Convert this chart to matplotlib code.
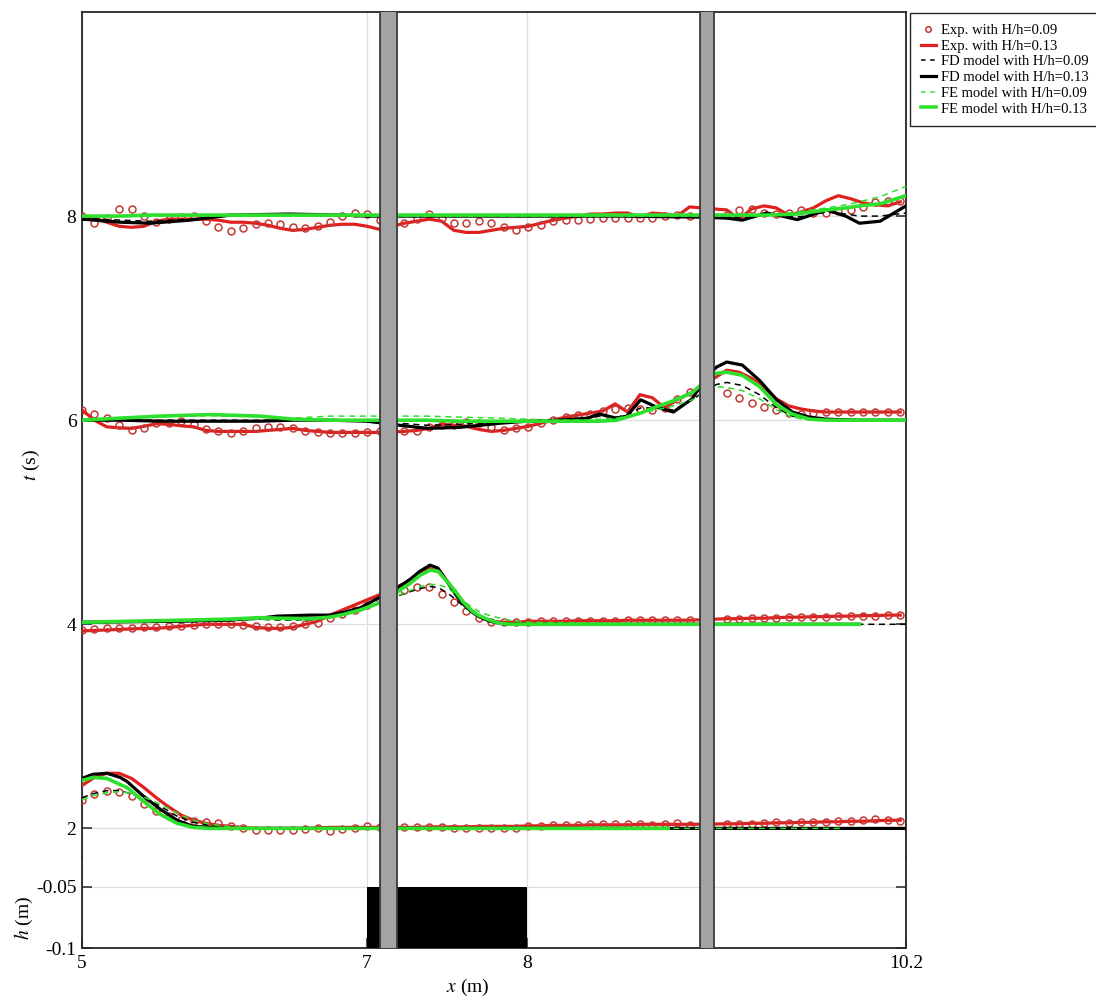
import matplotlib
matplotlib.use("Agg")
import matplotlib.pyplot as plt
import numpy as np
from matplotlib.lines import Line2D

# wave gauge stations along the flume (m)
gauge_x = [5.000, 5.087, 5.174, 5.261, 5.348, 5.435, 5.522, 5.609, 5.696, 5.783,
           5.870, 5.957, 6.044, 6.131, 6.218, 6.305, 6.392, 6.479, 6.566, 6.653,
           6.740, 6.827, 6.914, 7.001, 7.079,
           7.234, 7.311, 7.389, 7.466, 7.544, 7.621, 7.699, 7.776, 7.854, 7.931,
           8.008, 8.080, 8.152, 8.224, 8.296, 8.368, 8.440, 8.512, 8.584, 8.656,
           8.728, 8.800, 8.872, 8.944,
           9.160, 9.232, 9.304, 9.376, 9.447, 9.519, 9.591, 9.663, 9.735, 9.807,
           9.879, 9.951, 10.023, 10.095, 10.167]

times = [2, 4, 6, 8]

# measured surface elevation (offset from the time level, in axis units)
exp09_t2 = [0.28, 0.34, 0.37, 0.36, 0.32, 0.24, 0.17, 0.12, 0.08, 0.07, 0.065, 0.055, 0.02,
            0.0, -0.02, -0.02, -0.02, -0.02, -0.01, 0.0, -0.025, -0.01, 0.0, 0.02, 0.01,
            0.01, 0.01, 0.015, 0.01, 0.005, 0.0, 0.0, 0.005, 0.005, 0.0, 0.025, 0.025,
            0.03, 0.03, 0.03, 0.04, 0.04, 0.04, 0.04, 0.04, 0.035, 0.04, 0.05, 0.035,
            0.04, 0.04, 0.04, 0.05, 0.06, 0.05, 0.06, 0.06, 0.065, 0.07, 0.075, 0.08,
            0.09, 0.08, 0.075]
exp13_t2 = [0.42, 0.5, 0.54, 0.54, 0.49, 0.4, 0.3, 0.21, 0.13, 0.08, 0.05, 0.03, 0.02,
            0.01, 0.0, 0.0, 0.0, 0.0, 0.0, 0.005, 0.01, 0.01, 0.01, 0.01, 0.01,
            0.01, 0.01, 0.015, 0.015, 0.015, 0.015, 0.02, 0.02, 0.02, 0.02, 0.025, 0.025,
            0.03, 0.03, 0.03, 0.035, 0.035, 0.035, 0.035, 0.04, 0.04, 0.04, 0.04, 0.04,
            0.045, 0.045, 0.05, 0.05, 0.055, 0.055, 0.06, 0.06, 0.065, 0.065, 0.07, 0.07,
            0.075, 0.08, 0.08]

exp09_t4 = [-0.06, -0.05, -0.04, -0.035, -0.04, -0.025, -0.025, -0.015, -0.015, -0.005,
            0.0, 0.0, 0.0, -0.005, -0.015, -0.025, -0.025, -0.015, 0.0, 0.015, 0.06, 0.1,
            0.14, 0.19, 0.25,
            0.34, 0.365, 0.365, 0.3, 0.22, 0.13, 0.065, 0.025, 0.02, 0.02, 0.025, 0.03, 0.03,
            0.03, 0.035, 0.035, 0.035, 0.035, 0.04, 0.04, 0.04, 0.04, 0.04, 0.04,
            0.055, 0.055, 0.06, 0.06, 0.065, 0.07, 0.07, 0.075, 0.075, 0.08, 0.08, 0.085,
            0.085, 0.09, 0.09]
exp13_t4 = [-0.065, -0.06, -0.055, -0.05, -0.045, -0.04, -0.04, -0.03, -0.02, -0.01,
            0.0, 0.0, 0.0, 0.0, -0.03, -0.04, -0.04, -0.03, 0.0, 0.03, 0.09, 0.14, 0.19,
            0.24, 0.29,
            0.4, 0.48, 0.55, 0.5, 0.33, 0.18, 0.08, 0.03, 0.02, 0.02, 0.03, 0.03, 0.03,
            0.03, 0.035, 0.035, 0.035, 0.035, 0.04, 0.04, 0.04, 0.04, 0.04, 0.04,
            0.055, 0.055, 0.06, 0.06, 0.065, 0.07, 0.07, 0.075, 0.075, 0.08, 0.08, 0.085,
            0.085, 0.09, 0.09]

exp09_t6 = [0.1, 0.065, 0.02, -0.05, -0.1, -0.075, -0.03, -0.03, -0.01, -0.04, -0.09,
            -0.11, -0.13, -0.11, -0.075, -0.065, -0.065, -0.08, -0.11, -0.12, -0.13, -0.13,
            -0.13, -0.12, -0.11,
            -0.11, -0.11, -0.065, -0.05, -0.05, -0.02, -0.03, -0.065, -0.1, -0.075, -0.065,
            -0.03, 0.0, 0.03, 0.05, 0.065, 0.09, 0.11, 0.12, 0.11, 0.1, 0.12, 0.21, 0.28,
            0.27, 0.22, 0.17, 0.13, 0.1, 0.075, 0.065, 0.075, 0.08, 0.08, 0.08, 0.08, 0.08,
            0.08, 0.08]
exp13_t6 = [0.1, 0.0, -0.065, -0.075, -0.08, -0.06, -0.035, -0.04, -0.055, -0.065, -0.1,
            -0.11, -0.11, -0.11, -0.11, -0.1, -0.09, -0.08, -0.1, -0.11, -0.12, -0.12, -0.12,
            -0.12, -0.12,
            -0.11, -0.1, -0.08, -0.04, -0.05, -0.06, -0.09, -0.11, -0.1, -0.08, -0.06, -0.03,
            0.0, 0.03, 0.05, 0.07, 0.09, 0.16, 0.08, 0.25, 0.22, 0.12, 0.2, 0.26,
            0.49, 0.47, 0.41, 0.32, 0.21, 0.14, 0.11, 0.09, 0.08, 0.08, 0.08, 0.08, 0.08,
            0.08, 0.08]

exp09_t8 = [0.0, -0.065, -0.02, 0.065, 0.065, 0.0, -0.055, -0.03, -0.01, 0.0, -0.05, -0.11,
            -0.15, -0.12, -0.08, -0.065, -0.075, -0.11, -0.12, -0.1, -0.055, 0.0, 0.03, 0.025,
            -0.035,
            -0.065, -0.03, 0.02, -0.02, -0.065, -0.065, -0.05, -0.065, -0.11, -0.14, -0.11,
            -0.085, -0.05, -0.04, -0.04, -0.03, -0.02, -0.02, -0.02, -0.02, -0.02, 0.0, 0.015,
            0.0,
            0.015, 0.055, 0.065, 0.03, 0.02, 0.03, 0.055, 0.03, 0.03, 0.05, 0.055, 0.085, 0.14,
            0.15, 0.15]
exp13_t8 = [0.0, -0.02, -0.06, -0.1, -0.11, -0.1, -0.05, -0.03, -0.03, -0.03, -0.03, -0.04,
            -0.06, -0.06, -0.07, -0.09, -0.12, -0.14, -0.13, -0.11, -0.09, -0.08, -0.08, -0.1,
            -0.13,
            -0.07, -0.05, -0.03, -0.05, -0.14, -0.16, -0.16, -0.14, -0.12, -0.11, -0.1, -0.07,
            -0.04, -0.02, 0.0, 0.02, 0.02, 0.03, 0.03, -0.01, 0.03, 0.02, 0.0, 0.09,
            0.06, -0.03, 0.07, 0.1, 0.08, 0.01, 0.04, 0.08, 0.15, 0.2, 0.17, 0.13, 0.11, 0.1,
            0.14]

# numerical results, each time level on its own output grid (m)
model_x_t2 = [5.0, 5.077, 5.175, 5.267, 5.316, 5.428, 5.547, 5.667, 5.779, 5.898, 6.018,
              6.249, 8.0, 8.82, 9.83, 10.2]
fd09_t2 = [0.3, 0.34, 0.37, 0.37, 0.35, 0.3, 0.22, 0.12, 0.06, 0.03, 0.01, 0.0, 0.0, 0.0,
           0.0, 0.0]
fd13_t2 = [0.49, 0.53, 0.54, 0.5, 0.46, 0.32, 0.19, 0.08, 0.02, 0.01, 0.0, 0.0, 0.0, 0.0,
           0.0, 0.0]
fe09_t2 = [0.28, 0.32, 0.35, 0.36, 0.35, 0.31, 0.24, 0.15, 0.08, 0.04, 0.02, 0.0, 0.0, 0.0,
           0.0]
fe13_t2 = [0.47, 0.5, 0.49, 0.43, 0.4, 0.27, 0.14, 0.05, 0.01, 0.0, 0.0, 0.0, 0.0, 0.0]

model_x_t4 = [5.0, 5.337, 5.688, 6.018, 6.249, 6.368, 6.6, 6.74, 6.846, 6.951, 7.0625,
              7.1625, 7.269, 7.331, 7.394, 7.444, 7.5, 7.55, 7.6, 7.656, 7.706, 7.769,
              7.831, 7.894, 8.0, 9.0, 9.93, 10.2]
fd09_t4 = [0.015, 0.02, 0.03, 0.04, 0.05, 0.04, 0.04, 0.07, 0.1, 0.13, 0.2, 0.26, 0.32,
           0.35, 0.37, 0.36, 0.31, 0.25, 0.18, 0.12, 0.07, 0.03, 0.01, 0.0, 0.0, 0.0, 0.0,
           0.0]
fd13_t4 = [0.02, 0.025, 0.03, 0.04, 0.06, 0.08, 0.09, 0.09, 0.12, 0.16, 0.25, 0.33, 0.44,
           0.52, 0.58, 0.55, 0.42, 0.3, 0.2, 0.12, 0.07, 0.03, 0.01, 0.0, 0.0, 0.0, 0.0]
fe09_t4 = [0.02, 0.025, 0.035, 0.04, 0.05, 0.045, 0.045, 0.075, 0.1, 0.13, 0.2, 0.26, 0.33,
           0.37, 0.39, 0.39, 0.36, 0.3, 0.23, 0.17, 0.12, 0.085, 0.06, 0.04, 0.02, 0.0, 0.0]
fe13_t4 = [0.02, 0.03, 0.04, 0.05, 0.065, 0.06, 0.055, 0.07, 0.1, 0.14, 0.2, 0.29, 0.4,
           0.48, 0.53, 0.52, 0.42, 0.33, 0.22, 0.13, 0.08, 0.04, 0.01, 0.0, 0.0, 0.0, 0.0]

model_x_t6 = [5.0, 5.267, 5.547, 5.898, 6.249, 6.481, 6.74, 7.0, 7.206, 7.375, 7.581,
              7.831, 8.0, 8.19, 8.35, 8.42, 8.52, 8.58, 8.66, 8.75, 8.85, 8.96, 9.045, 9.1,
              9.16, 9.25, 9.35, 9.45, 9.54, 9.64, 9.74, 9.93, 10.2]
fd09_t6 = [0.0, 0.0, 0.0, 0.0, 0.0, 0.0, 0.0, 0.0, -0.03, -0.05, -0.04, -0.02, 0.0, 0.0,
           0.01, 0.04, 0.03, 0.05, 0.12, 0.12, 0.1, 0.2, 0.3, 0.35, 0.37, 0.34, 0.25, 0.12,
           0.04, 0.01, 0.0, 0.0, 0.0]
fd13_t6 = [0.0, 0.0, -0.01, -0.01, -0.01, 0.0, 0.0, -0.01, -0.05, -0.08, -0.07, -0.03,
           -0.01, 0.0, 0.02, 0.06, 0.02, 0.04, 0.2, 0.13, 0.08, 0.21, 0.43, 0.52, 0.57, 0.54,
           0.39, 0.2, 0.08, 0.03, 0.01, 0.0, 0.0]
fe09_t6 = [0.0, 0.02, 0.035, 0.045, 0.035, 0.02, 0.04, 0.04, 0.04, 0.04, 0.03, 0.02, 0.01,
           0.0, 0.0, 0.01, 0.02, 0.04, 0.07, 0.1, 0.14, 0.2, 0.28, 0.33, 0.32, 0.29, 0.21,
           0.1, 0.03, 0.0, 0.0, 0.0, 0.0]
fe13_t6 = [0.0, 0.02, 0.04, 0.055, 0.04, 0.01, 0.0, 0.0, 0.0, 0.0, -0.01, -0.01, -0.01,
           -0.01, -0.01, -0.01, 0.0, 0.03, 0.07, 0.13, 0.19, 0.27, 0.4, 0.46, 0.47, 0.44,
           0.33, 0.15, 0.06, 0.01, 0.0, 0.0, 0.0]

model_x_t8 = [5.0, 5.267, 5.477, 5.758, 6.039, 6.46, 6.811, 7.0, 7.581, 8.0, 8.54, 9.0,
              9.16, 9.25, 9.39, 9.48, 9.57, 9.65, 9.74, 9.85, 9.93, 10.05, 10.2]
fd09_t8 = [-0.02, -0.04, -0.05, -0.03, 0.0, 0.01, 0.0, 0.0, 0.0, 0.0, 0.0, 0.0, -0.01,
           -0.02, 0.02, 0.0, -0.01, 0.01, 0.04, 0.02, 0.0, 0.0, 0.03]
fd13_t8 = [-0.03, -0.06, -0.07, -0.04, 0.01, 0.02, 0.01, 0.0, 0.0, 0.0, 0.0, -0.01, -0.02,
           -0.04, 0.03, 0.0, -0.035, 0.01, 0.06, 0.0, -0.07, -0.05, 0.1]
fe09_t8 = [0.0, 0.0, 0.0, 0.0, 0.0, 0.0, 0.0, 0.0, 0.0, 0.0, 0.0, 0.0, 0.0, 0.01, 0.01,
           0.02, 0.04, 0.06, 0.08, 0.11, 0.14, 0.19, 0.29]
fe13_t8 = [0.0, 0.0, 0.01, 0.01, 0.01, 0.01, 0.01, 0.01, 0.01, 0.01, 0.01, 0.01, 0.01, 0.01,
           0.01, 0.015, 0.02, 0.04, 0.06, 0.08, 0.1, 0.12, 0.2]

# submerged step and the two vertical walls
step_x = [7.0, 8.0]
step_top = -0.05
wall_x = [(7.081, 7.188), (9.004, 9.085)]

legend_labels = ["Exp. with H/h=0.09", "Exp. with H/h=0.13",
                 "FD model with H/h=0.09", "FD model with H/h=0.13",
                 "FE model with H/h=0.09", "FE model with H/h=0.13"]

plt.rcParams['font.family'] = 'Liberation Serif'
plt.rcParams['mathtext.fontset'] = 'stix'

RED = '#e0201e'
RING = '#c23a36'
GREEN = '#2ee02e'
EDGE = '#262626'

# stretched x axis: labelled stations sit at fixed fractions of the width
x_knots = np.array([5.0, 7.0, 8.0, 10.2])
f_knots = np.array([0.0, 0.3459, 0.5400, 1.0])


def _pw(x, xs, fs):
    x = np.asarray(x, dtype=float)
    y = np.interp(x, xs, fs)
    s0 = (fs[1] - fs[0]) / (xs[1] - xs[0])
    s1 = (fs[-1] - fs[-2]) / (xs[-1] - xs[-2])
    y = np.where(x < xs[0], fs[0] + (x - xs[0]) * s0, y)
    y = np.where(x > xs[-1], fs[-1] + (x - xs[-1]) * s1, y)
    return y


def x_fwd(x):
    return _pw(x, x_knots, f_knots)


def x_inv(f):
    return _pw(f, f_knots, x_knots)


fig = plt.figure(figsize=(10.96, 9.98), dpi=100)
ax = fig.add_axes([0.0748, 0.1413, 0.7518, 0.8467])
axh = fig.add_axes([0.0748, 0.0501, 0.7518, 0.0912])

for a in (ax, axh):
    a.set_xscale('function', functions=(x_fwd, x_inv))
    a.set_xlim(5, 10.2)
    a.set_xticks([5, 7, 8, 10.2])
    a.grid(True, color='#dedede', lw=0.9)
    a.set_axisbelow(True)
    for s in a.spines.values():
        s.set_color(EDGE)
        s.set_linewidth(1.3)
    a.tick_params(axis='y', direction='in', length=7, width=1.1, color=EDGE,
                  left=True, right=True, labelsize=14, pad=4)
    for x0, x1 in wall_x:
        a.axvspan(x0, x1, ymin=-0.05, ymax=1.05, facecolor='#a3a3a3',
                  edgecolor='#3a3a3a', lw=1.3, zorder=20)

ax.spines['bottom'].set_visible(False)
axh.spines['top'].set_visible(False)

ax.set_ylim(1.72, 10)
ax.set_yticks([2, 4, 6, 8])
ax.set_yticklabels(['2', '4', '6', '8'])
ax.tick_params(axis='x', length=0, labelbottom=False)

axh.set_ylim(-0.1, -0.0254)
axh.set_yticks([-0.1, -0.05])
axh.set_yticklabels(['-0.1', '-0.05'])
axh.set_xticklabels(['5', '7', '8', '10.2'])
axh.tick_params(axis='x', direction='in', length=7, width=1.1, color=EDGE,
                labelsize=14, pad=5)

# step on the flume bed
axh.bar(step_x[0], step_top + 0.1, width=step_x[1] - step_x[0], bottom=-0.1,
        align='edge', color='black', zorder=5)

series = zip(times,
             [exp09_t2, exp09_t4, exp09_t6, exp09_t8],
             [exp13_t2, exp13_t4, exp13_t6, exp13_t8],
             [model_x_t2, model_x_t4, model_x_t6, model_x_t8],
             [fd09_t2, fd09_t4, fd09_t6, fd09_t8],
             [fd13_t2, fd13_t4, fd13_t6, fd13_t8],
             [fe09_t2, fe09_t4, fe09_t6, fe09_t8],
             [fe13_t2, fe13_t4, fe13_t6, fe13_t8])

for t0, e09, e13, mx, d09, d13, f09, f13 in series:
    ax.plot(gauge_x, t0 + np.array(e13), color=RED, lw=2.3, zorder=3)
    ax.plot(gauge_x, t0 + np.array(e09), 'o', mfc='none', mec=RING, ms=5, mew=1.1, zorder=4)
    ax.plot(mx[:len(d09)], t0 + np.array(d09), color='black', lw=1.1, dashes=(4, 3), zorder=5)
    ax.plot(mx[:len(d13)], t0 + np.array(d13), color='black', lw=2.3, zorder=6)
    ax.plot(mx[:len(f09)], t0 + np.array(f09), color=GREEN, lw=1.1, dashes=(4, 3), zorder=7)
    ax.plot(mx[:len(f13)], t0 + np.array(f13), color=GREEN, lw=2.6, zorder=8)

ax.set_ylabel('$t$ (s)', fontsize=14)
ax.yaxis.set_label_coords(-0.049, 0.464)
axh.set_ylabel('$h$ (m)', fontsize=14)
axh.yaxis.set_label_coords(-0.057, 0.33)
axh.set_xlabel('$x$ (m)', fontsize=14)
axh.xaxis.set_label_coords(0.468, -0.32)

handles = [Line2D([], [], ls='none', marker='o', mfc='none', mec=RING, ms=4, mew=1.1),
           Line2D([], [], color=RED, lw=2.3),
           Line2D([], [], color='black', lw=1.1, dashes=(3, 3)),
           Line2D([], [], color='black', lw=2.3),
           Line2D([], [], color=GREEN, lw=1.1, dashes=(3, 3)),
           Line2D([], [], color=GREEN, lw=2.6)]
leg = fig.legend(handles, legend_labels, loc='upper left', bbox_to_anchor=(0.8303, 0.987),
                 fontsize=10.5, frameon=True, fancybox=False, edgecolor=EDGE, framealpha=1,
                 borderpad=0.75, labelspacing=0.17, handlelength=1.0, handletextpad=0.4,
                 borderaxespad=0)
leg.get_frame().set_linewidth(1.0)

fig.savefig('out.png', dpi=100)
